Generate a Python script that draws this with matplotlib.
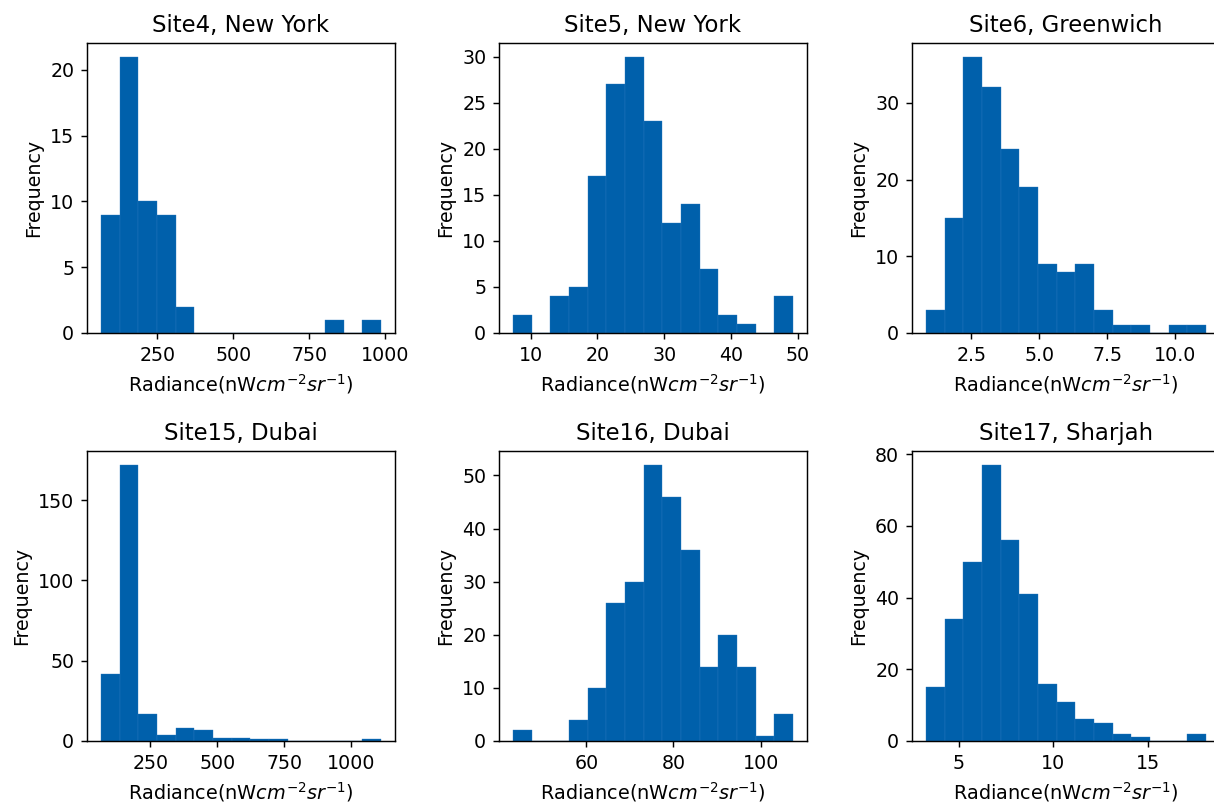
import numpy as np
import matplotlib
matplotlib.use("Agg")
import matplotlib.pyplot as plt

titles = ["Site4, New York", "Site5, New York", "Site6, Greenwich",
          "Site15, Dubai", "Site16, Dubai", "Site17, Sharjah"]

# bin range (min, max) of each histogram, 15 equal bins
site4_range = (64.5, 986.0)
site5_range = (7.36, 49.25)
site6_range = (0.836, 11.125)
site15_range = (65.0, 1112.0)
site16_range = (43.2, 107.4)
site17_range = (3.26, 18.08)

site4_counts = [9, 21, 10, 9, 2, 0, 0, 0, 0, 0, 0, 0, 1, 0, 1]
site5_counts = [2, 0, 4, 5, 17, 27, 30, 23, 12, 14, 7, 2, 1, 0, 4]
site6_counts = [3, 15, 36, 32, 24, 19, 9, 8, 9, 3, 1, 1, 0, 1, 1]
site15_counts = [42, 172, 17, 4, 8, 7, 2, 2, 1, 1, 0, 0, 0, 0, 1]
site16_counts = [2, 0, 0, 4, 10, 26, 30, 52, 46, 36, 14, 20, 14, 1, 5]
site17_counts = [15, 34, 50, 77, 56, 41, 16, 11, 6, 5, 2, 1, 0, 0, 2]

# tick values
site4_xticks = [250, 500, 750, 1000]
site4_yticks = [0, 5, 10, 15, 20]
site5_xticks = [10, 20, 30, 40, 50]
site5_yticks = [0, 5, 10, 15, 20, 25, 30]
site6_xticks = [2.5, 5.0, 7.5, 10.0]
site6_yticks = [0, 10, 20, 30]
site15_xticks = [250, 500, 750, 1000]
site15_yticks = [0, 50, 100, 150]
site16_xticks = [60, 80, 100]
site16_yticks = [0, 10, 20, 30, 40, 50]
site17_xticks = [5, 10, 15]
site17_yticks = [0, 20, 40, 60, 80]

ranges = [site4_range, site5_range, site6_range, site15_range, site16_range, site17_range]
counts = [site4_counts, site5_counts, site6_counts, site15_counts, site16_counts, site17_counts]
xticks = [site4_xticks, site5_xticks, site6_xticks, site15_xticks, site16_xticks, site17_xticks]
yticks = [site4_yticks, site5_yticks, site6_yticks, site15_yticks, site16_yticks, site17_yticks]

xlabel = r"Radiance(nW$cm^{-2}sr^{-1}$)"
color = "#0060ab"

DPI = 130
W, H = 1214, 802
fig = plt.figure(figsize=(W / DPI, H / DPI), dpi=DPI)

lefts = [87, 499, 912]
tops = [43, 451]
aw, ah = 308, 290

for i in range(6):
    r, c = divmod(i, 3)
    ax = fig.add_axes([lefts[c] / W, 1 - (tops[r] + ah) / H, aw / W, ah / H])
    lo, hi = ranges[i]
    edges = np.linspace(lo, hi, len(counts[i]) + 1)
    ax.bar(edges[:-1], counts[i], width=np.diff(edges), align="edge",
           color=color, edgecolor="#2a78c0", linewidth=0.2)
    ax.set_xticks(xticks[i])
    ax.set_yticks(yticks[i])
    ax.set_title(titles[i], fontsize=12.6)
    ax.set_xlabel(xlabel, fontsize=10.7)
    ax.set_ylabel("Frequency", fontsize=10.5)
    ax.tick_params(labelsize=10.5)

fig.savefig("out.png", dpi=DPI)
